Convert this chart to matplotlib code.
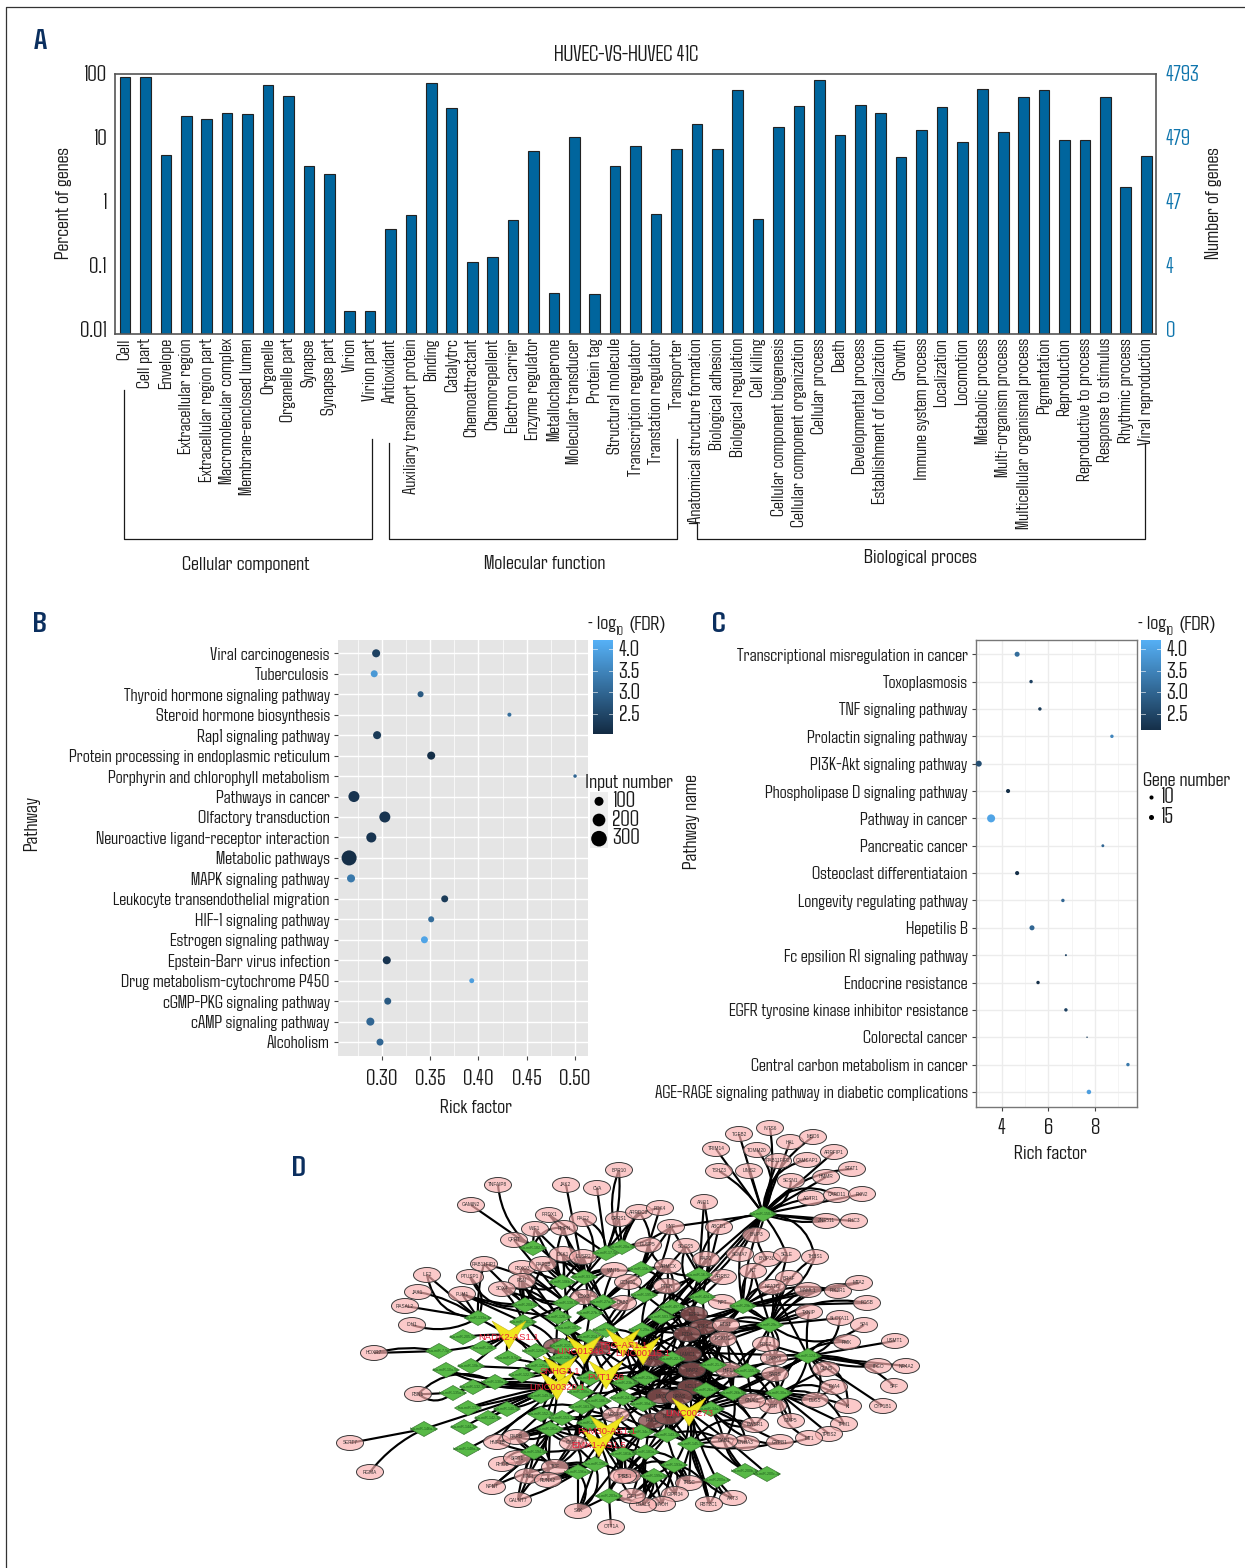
# GO bars, two KEGG bubble plots and the lncRNA-miRNA-mRNA network, on one page.

import numpy as np
import matplotlib
matplotlib.use("Agg")
import matplotlib.pyplot as plt
from matplotlib.colors import LinearSegmentedColormap
from matplotlib.patches import Ellipse, PathPatch, Polygon
from matplotlib.path import Path

FONTS = ['Agdasima', 'Fira Sans Extra Condensed', 'Lato', 'DejaVu Sans']
plt.rcParams['font.family'] = FONTS

W, H = 1245, 1568

# panel A
go_terms = ["Cell", "Cell part", "Envelope", "Extracellular region", "Extracellular region part",
            "Macromolecular complex", "Membrane-enclosed lumen", "Organelle", "Organelle part",
            "Synapse", "Synapse part", "Virion", "Virion part",
            "Antioxidant", "Auxiliary transport protein", "Binding", "Catalytrc", "Chemoattractant",
            "Chemorepellent", "Electron carrier", "Enzyme regulator", "Metallochaperone",
            "Molecular transducer", "Protein tag", "Structural molecule", "Transcription regulator",
            "Transtation regulator", "Transporter",
            "Anatomical structure formation", "Biological adhesion", "Biological regulation",
            "Cell killing", "Cellular component biogenesis", "Cellular component organization",
            "Cellular process", "Death", "Developmental process", "Establishment of localization",
            "Growth", "Immune system process", "Localization", "Locomotion", "Metabolic process",
            "Multi-organism process", "Multicellular organismal process", "Pigmentation",
            "Reproduction", "Reproductive to process", "Response to stimulus", "Rhythmic process",
            "Viral reproduction"]
go_percent = [88.8, 88.8, 5.4, 22.3, 20, 24.3, 23.5, 68, 44.8, 3.65, 2.77, 0.019, 0.019,
              0.383, 0.627, 73, 29.7, 0.115, 0.135, 0.528, 6.2, 0.037, 10.5, 0.0356, 3.65, 7.5,
              0.65, 6.8,
              16.4, 6.8, 56, 0.55, 14.7, 31.6, 80.6, 11.1, 33, 24.8, 5.05, 13.3, 30.8, 8.66, 59,
              12.3, 44, 55.6, 9.3, 9.3, 43.7, 1.71, 5.3]
pct_ticks = [100, 10, 1, 0.1, 0.01]
pct_labels = ["100", "10", "1", "0.1", "0.01"]
count_labels = ["4793", "479", "47", "4", "0"]

# panel B
b_names = ["Alcoholism", "cAMP signaling pathway", "cGMP-PKG signaling pathway",
           "Drug metabolism-cytochrome P450", "Epstein-Barr virus infection",
           "Estrogen signaling pathway", "HIF-1 signaling pathway",
           "Leukocyte transendothelial migration", "MAPK signaling pathway", "Metabolic pathways",
           "Neuroactive ligand-receptor interaction", "Olfactory transduction", "Pathways in cancer",
           "Porphyrin and chlorophyll metabolism", "Protein processing in endoplasmic reticulum",
           "Rap1 signaling pathway", "Steroid hormone biosynthesis", "Thyroid hormone signaling pathway",
           "Tuberculosis", "Viral carcinogenesis"]
b_rich = [0.298, 0.288, 0.306, 0.393, 0.305, 0.344, 0.351, 0.365, 0.268, 0.266,
          0.289, 0.303, 0.271, 0.500, 0.351, 0.295, 0.432, 0.340, 0.292, 0.294]
b_count = [60, 80, 60, 30, 80, 60, 45, 60, 80, 280, 125, 150, 150, 15, 80, 80, 20, 45, 60, 80]
b_fdr = [3.0, 3.0, 2.8, 3.9, 2.2, 4.0, 3.1, 2.3, 3.3, 2.1, 2.2, 2.2, 2.2, 3.0, 2.1, 2.3, 3.1, 2.8, 3.8, 2.4]
b_legend = [100, 200, 300]

# panel C
c_names = ["AGE-RAGE signaling pathway in diabetic complications", "Central carbon metabolism in cancer",
           "Colorectal cancer", "EGFR tyrosine kinase inhibitor resistance", "Endocrine resistance",
           "Fc epsilion RI signaling pathway", "Hepetilis B", "Longevity regulating pathway",
           "Osteoclast differentiataion", "Pancreatic cancer", "Pathway in cancer",
           "Phospholipase D signaling pathway", "PI3K-Akt signaling pathway",
           "Prolactin signaling pathway", "TNF signaling pathway", "Toxoplasmosis",
           "Transcriptional misregulation in cancer"]
c_rich = [7.74, 9.42, 7.66, 6.75, 5.55, 6.75, 5.29, 6.62, 4.65, 8.34, 3.53, 4.26, 3.0, 8.73, 5.63, 5.25, 4.65]
c_count = [12, 7, 1.3, 7, 7, 2.4, 15, 7, 10, 5, 38, 10, 21, 7, 7, 7, 15]
c_fdr = [3.9, 3.3, 2.4, 2.4, 2.1, 2.4, 3.0, 3.0, 2.1, 3.0, 4.0, 2.1, 2.6, 3.5, 2.3, 2.4, 3.1]
c_legend = [10, 15]

# panel D, positions on the page because a network has no scale
pink_nodes = [
    ("TNFAIP8", 498, 1185), ("GAMIN2", 471, 1205), ("JAK2", 566, 1185), ("CVA", 597, 1188), ("BPR10", 619, 1170),
    ("PRDX1", 549, 1215), ("RAG2", 583, 1219), ("OPRS1", 619, 1219), ("WIF1", 535, 1229), ("RHPN", 564, 1228),
    ("QPRT", 514, 1240), ("ILF2", 427, 1275), ("RAB11FIP1", 484, 1264), ("PTUSP1", 470, 1277), ("JAK1", 418, 1292),
    ("RASAL2", 405, 1306), ("IDH1", 412, 1325), ("PUM1", 462, 1294), ("FBXO3", 522, 1268), ("RAP1B", 543, 1264),
    ("RSN", 522, 1281), ("SOX4", 502, 1289), ("DKK1", 563, 1254), ("DUSP2", 583, 1257), ("DDX3", 584, 1297),
    ("WNT5", 614, 1270), ("DAB2", 623, 1303), ("CCND1", 628, 1282),
    ("TGFB2", 739, 1134), ("INTS6", 770, 1128), ("HAL", 790, 1142), ("MBD6", 813, 1137), ("TRIM14", 716, 1149),
    ("TOMM20", 757, 1150), ("RAB11FIP2", 778, 1161), ("CAMSAP1", 807, 1160), ("ARRFIP1", 834, 1152),
    ("TSHZ3", 719, 1171), ("LIMS2", 749, 1171), ("STAT1", 852, 1169), ("HMMR", 826, 1177), ("SESN1", 791, 1181),
    ("AGTR1", 811, 1198), ("CARD11", 837, 1195), ("PKN2", 862, 1194), ("ZNF511", 826, 1221), ("PHC3", 854, 1221),
    ("ANO1", 704, 1202), ("ABCD1", 719, 1227), ("ARRDC3", 639, 1212), ("PDK4", 660, 1208), ("MYF", 671, 1227),
    ("SOCS5", 686, 1246), ("BNIP3", 756, 1235), ("SEMA7", 740, 1254), ("BNIP3L", 767, 1259), ("SELE", 787, 1255),
    ("THBS1", 815, 1257), ("KIT", 753, 1271), ("BRAF", 789, 1278), ("NFATC", 772, 1287), ("MAML1", 808, 1290),
    ("PIK3R1", 838, 1291), ("MTA2", 859, 1283), ("FOSB", 867, 1303), ("TXNIP", 809, 1312), ("SLC7A11", 840, 1318),
    ("SP4", 864, 1325), ("NPT", 722, 1302), ("RAP2", 706, 1259), ("ARRB2", 723, 1277), ("ARMCX", 668, 1266),
    ("PTEN", 667, 1286), ("DUSP5", 648, 1245), ("E2F1", 694, 1314), ("E2F3", 703, 1327), ("ETS1", 726, 1325),
    ("FOXO1", 723, 1339), ("FZD4", 687, 1334),
    ("PMK", 847, 1342), ("USMT1", 895, 1341), ("ITGO", 878, 1366), ("NR4A2", 906, 1366), ("SFF", 894, 1386),
    ("CYP1B1", 883, 1406), ("EYA4", 834, 1387), ("GLNS", 826, 1369), ("KI", 848, 1406), ("TPM1", 844, 1424),
    ("TPDS2", 829, 1434), ("MT1", 809, 1438), ("GYPB1", 780, 1442), ("ENHA3", 746, 1443), ("GAB1", 724, 1441),
    ("EWSR1", 755, 1425), ("GMP5", 791, 1421), ("DLG5", 815, 1400), ("VGR", 773, 1406), ("GNAI1", 752, 1401),
    ("PDE7", 766, 1344), ("MAPK9", 774, 1358), ("SARS", 775, 1374), ("HIF1A", 729, 1370),
    ("AXT3", 733, 1498), ("RBT2C1", 709, 1504), ("TRSC", 689, 1483), ("GIPR34", 675, 1494), ("MAOH", 662, 1504),
    ("LGALS", 643, 1505), ("IGF1", 632, 1496), ("IRS1", 627, 1476),
    ("KRAS", 653, 1359), ("LAMC1", 688, 1354), ("MAP2", 692, 1370), ("MCL1", 691, 1387), ("MYC", 661, 1396),
    ("NRAS", 679, 1397), ("PAK1", 652, 1421), ("PIM1", 668, 1417),
    ("HOXR7", 374, 1353), ("FBN1", 418, 1394), ("SEPT7", 350, 1443), ("RGMA", 370, 1472), ("HNF1B", 497, 1442),
    ("RARB", 516, 1437), ("CYP1A", 573, 1443), ("RHOB", 502, 1464), ("SIRT1", 517, 1458), ("TCF", 555, 1467),
    ("MAFI", 528, 1476), ("RUNX2", 548, 1480), ("NPNT", 492, 1487), ("GALNT7", 518, 1500), ("SYK", 578, 1511),
    ("OTT1A", 611, 1527), ("TP53", 623, 1476), ("VEGFA", 616, 1415), ("XIAP", 557, 1346), ("YAP1", 597, 1348),
]
dense_nodes = ["KRAS", "LAMC1", "MAP2", "MCL1", "MYC", "NRAS", "E2F1", "E2F3", "FZD4", "YAP1", "XIAP", "PAK1", "PIM1"]

green_nodes = [
    ("150-5p", 763, 1214, "TGFB2 INTS6 HAL MBD6 TRIM14 TOMM20 RAB11FIP2 CAMSAP1 ARRFIP1 TSHZ3 LIMS2 STAT1 HMMR SESN1 AGTR1 CARD11 PKN2 ZNF511 PHC3 BNIP3 SEMA7 BNIP3L SELE THBS1 MYF ABCD1 ZNF511"),
    ("182-5p", 533, 1248, "TNFAIP8 GAMIN2 QPRT WIF1 RHPN"),
    ("17-5p", 606, 1253, "CVA BPR10 OPRS1 DUSP2 PRDX1 RAG2"),
    ("20a-5p", 622, 1247, "ARRDC3 PDK4 OPRS1 MYF DUSP5 BPR10"),
    ("93-5p", 584, 1277, "JAK2 RAG2 RHPN DKK1 DUSP2 PRDX1 WIF1 WNT5 ARRDC3 RAP1B"),
    ("106b-5p", 562, 1282, "RAP1B RSN FBXO3 DKK1 WIF1 RHPN DUSP2 QPRT"),
    ("204-5p", 525, 1305, "PUM1 PTUSP1 RAB11FIP1 SOX4 RSN FBXO3 RAP1B"),
    ("138-5p", 566, 1303, "DDX3 SOX4 RSN QPRT RAB11FIP1 DKK1 WNT5 FBXO3"),
    ("27a-3p", 603, 1302, "DDX3 WNT5 DAB2 CCND1 DKK1 DUSP2 ARMCX"),
    ("27b-3p", 590, 1313, "DAB2 DDX3 CCND1 WNT5 DUSP2 RAP1B"),
    ("128-3p", 558, 1317, "DDX3 RSN FBXO3 SOX4 PUM1 WNT5"),
    ("133a-3p", 478, 1318, "ILF2 JAK1 RASAL2 IDH1 PUM1 PTUSP1 RAB11FIP1 ILF2"),
    ("101-3p", 523, 1322, "PUM1 SOX4 RSN XIAP DDX3"),
    ("107", 568, 1328, "DDX3 DAB2 XIAP YAP1 KRAS CCND1"),
    ("15a-5p", 606, 1330, "DAB2 YAP1 CCND1 ARMCX KRAS PTEN"),
    ("15b-5p", 641, 1269, "DUSP5 ARMCX PTEN PDK4 ARRDC3 WNT5 CCND1 MYF"),
    ("16-5p", 699, 1275, "SOCS5 RAP2 ABCD1 ANO1 ARRB2 PTEN DUSP5 MYF E2F1"),
    ("195-5p", 644, 1295, "PTEN ARMCX DAB2 CCND1 FZD4 E2F1 SOCS5 MYF"),
    ("424-5p", 702, 1297, "ARRB2 RAP2 NPT E2F1 E2F3 SOCS5 ABCD1 ANO1"),
    ("497-5p", 672, 1307, "E2F1 E2F3 FZD4 PTEN ARMCX LAMC1 RAP2"),
    ("503-5p", 661, 1317, "FZD4 E2F1 KRAS PTEN ARMCX LAMC1 E2F3"),
    ("29a-3p", 642, 1330, "FZD4 KRAS LAMC1 ARMCX MAP2 MYC E2F1"),
    ("29b-3p", 743, 1306, "NFATC BRAF KIT MAML1 PIK3R1 MTA2 TXNIP SEMA7 BNIP3L SELE ETS1 NPT E2F1 FOSB THBS1 BNIP3 MAPK9 E2F3 FOXO1 LAMC1"),
    ("29c-3p", 770, 1325, "FOSB SLC7A11 SP4 TXNIP PIK3R1 MAML1 NFATC BRAF THBS1 PDE7 ETS1 E2F3 MAPK9 SELE FOXO1 LAMC1 MTA2 KIT MAP2 FZD4"),
    ("124-3p", 808, 1356, "PMK USMT1 ITGO NR4A2 SFF CYP1B1 EYA4 GLNS KI PDE7 MAPK9 SARS VGR ITGO SLC7A11 TXNIP DLG5 NFATC GNAI1 HIF1A MAP2"),
    ("155-5p", 747, 1371, "MAPK9 SARS HIF1A PDE7 FOXO1 ETS1 GNAI1 VGR MAP2 MCL1 LAMC1 E2F3 FZD4 KRAS MYC"),
    ("21-5p", 713, 1365, "HIF1A LAMC1 MAP2 FOXO1 E2F3 FZD4 MCL1 KRAS NRAS ETS1 PIM1 MYC PAK1 E2F1"),
    ("22-3p", 672, 1359, "KRAS LAMC1 MAP2 FZD4 MYC MCL1 NRAS FOXO1 HIF1A ETS1 E2F1 PIM1 PAK1"),
    ("23a-3p", 645, 1378, "KRAS MAP2 MCL1 MYC YAP1 NRAS LAMC1 PIM1 HIF1A FZD4 E2F1 ETS1"),
    ("23b-3p", 625, 1383, "KRAS MYC YAP1 MCL1 MAP2 LAMC1 NRAS"),
    ("24-3p", 623, 1398, "MYC NRAS PAK1 VEGFA PIM1 MCL1 KRAS MAP2"),
    ("26a-5p", 706, 1390, "MCL1 NRAS EWSR1 GNAI1 MAP2 HIF1A PIM1 KRAS LAMC1 FOXO1 MYC E2F3 FZD4"),
    ("26b-5p", 733, 1393, "GNAI1 VGR EWSR1 HIF1A SARS GAB1 MAP2 MCL1 NRAS PDE7 KRAS E2F1 ETS1 FZD4"),
    ("30a-5p", 779, 1393, "GLNS EYA4 KI TPM1 DLG5 GMP5 GNAI1 VGR TPDS2 MT1 SARS PMK TPM1 PDE7 MAPK9 GMP5 MCL1 HIF1A EWSR1 KI"),
    ("30d-5p", 643, 1404, "MYC PAK1 PIM1 NRAS VEGFA MCL1 MAP2 KRAS LAMC1 E2F1 FOXO1 ETS1"),
    ("34a-5p", 711, 1409, "GNAI1 EWSR1 GAB1 ENHA3 GYPB1 NRAS MCL1 VGR PIM1 MT1 KRAS MAP2 LAMC1"),
    ("34c-5p", 641, 1432, "PAK1 PIM1 VEGFA IRS1 TP53 NRAS"),
    ("143-3p", 667, 1435, "PAK1 PIM1 TRSC VEGFA GAB1 NRAS MYC IRS1 MCL1 MAP2 LAMC1"),
    ("145-5p", 691, 1444, "GAB1 ENHA3 TRSC AXT3 RBT2C1 EWSR1 GIPR34 GYPB1 RBT2C1 PIM1 MCL1 NRAS MYC"),
    ("181a-5p", 646, 1452, "IRS1 IGF1 TP53 TRSC GIPR34 LGALS MAOH PAK1 TRSC PIM1 IRS1"),
    ("181b-5p", 623, 1454, "IRS1 TP53 VEGFA IGF1 SYK LGALS PAK1 TP53"),
    ("193a-3p", 674, 1465, "TRSC GIPR34 MAOH IRS1 LGALS RBT2C1 MAOH IGF1"),
    ("199a-5p", 654, 1476, "IGF1 LGALS MAOH IRS1 GIPR34 IGF1 TP53 LGALS"),
    ("200a-3p", 717, 1480, "AXT3 RBT2C1 TRSC AXT3"),
    ("200b-3p", 745, 1471, "GAB1"),
    ("200c-3p", 767, 1474, "GAB1"),
    ("205-5p", 463, 1337, ""),
    ("206", 483, 1348, ""),
    ("7-5p", 439, 1351, "HOXR7 HOXR7"),
    ("9-5p", 508, 1358, ""),
    ("10a-5p", 446, 1370, ""),
    ("10b-5p", 471, 1366, ""),
    ("122-5p", 522, 1375, ""),
    ("125a-5p", 539, 1366, ""),
    ("125b-5p", 536, 1351, "XIAP"),
    ("126-3p", 563, 1358, "XIAP YAP1"),
    ("130a-3p", 495, 1382, "FBN1"),
    ("132-3p", 473, 1387, "FBN1"),
    ("135a-5p", 453, 1393, "FBN1"),
    ("137", 468, 1408, ""),
    ("140-5p", 507, 1409, ""),
    ("142-3p", 488, 1418, ""),
    ("144-3p", 464, 1427, ""),
    ("146a-5p", 424, 1429, "SEPT7 RGMA"),
    ("148a-3p", 467, 1449, ""),
    ("149-5p", 541, 1396, "XIAP YAP1"),
    ("152-3p", 541, 1414, "RARB CYP1A"),
    ("153-3p", 562, 1418, "CYP1A RARB VEGFA"),
    ("181c-5p", 550, 1429, "RARB HNF1B SIRT1 CYP1A TCF MAFI RHOB RUNX2"),
    ("183-5p", 582, 1407, "VEGFA CYP1A TCF RARB HNF1B"),
    ("186-5p", 598, 1401, "VEGFA MYC TP53 CYP1A TCF"),
    ("190a-5p", 581, 1392, "YAP1 XIAP KRAS VEGFA"),
    ("192-5p", 590, 1378, "YAP1 KRAS XIAP MYC"),
    ("194-5p", 534, 1452, "RHOB SIRT1 MAFI HNF1B RUNX2 NPNT GALNT7 TCF RARB NPNT RHOB GALNT7 SIRT1 RARB"),
    ("196a-5p", 578, 1472, "TCF RUNX2 MAFI SYK CYP1A GALNT7 SYK MAFI SIRT1"),
    ("198", 595, 1464, "SYK TP53 CYP1A GALNT7 TCF SYK RUNX2 NPNT"),
    ("203a-3p", 609, 1496, "OTT1A TP53 SYK IGF1 LGALS IRS1"),
    ("210-3p", 590, 1423, "VEGFA CYP1A TP53 TCF HNF1B"),
    ("212-3p", 563, 1346, "XIAP KRAS YAP1"),
    ("214-3p", 590, 1337, "XIAP YAP1 KRAS"),
]

yellow_nodes = [
    ("NADK2-AS1.1", 509, 1335, "7-5p 206 9-5p 125b-5p 125a-5p 133a-3p 205-5p 10b-5p 101-3p"),
    ("TRG-AS1.1", 623, 1343, "15a-5p 29a-3p 23a-3p 214-3p 22-3p 503-5p 192-5p 212-3p 30d-5p 150-5p 150-5p 29c-3p 29b-3p 155-5p 16-5p 424-5p 93-5p 106b-5p"),
    ("LINC01348.1", 584, 1350, "126-3p 214-3p 192-5p 125a-5p 107 190a-5p 149-5p 122-5p 128-3p 138-5p 27b-3p 204-5p"),
    ("SNHG3.1", 560, 1370, "122-5p 125a-5p 149-5p 190a-5p 126-3p 10a-5p 10b-5p 9-5p 192-5p 128-3p 101-3p"),
    ("PVT1.36", 606, 1375, "192-5p 23b-3p 24-3p 186-5p 190a-5p 23a-3p 214-3p 183-5p 30d-5p 26a-5p 26b-5p 30a-5p 150-5p 34c-5p"),
    ("LINC00320.1", 557, 1386, "130a-3p 132-3p 135a-5p 137 140-5p 142-3p 144-3p 146a-5p 148a-3p 149-5p 152-3p 130a-3p 10a-5p 140-5p 137 142-3p 181c-5p 194-5p"),
    ("FAM30-AS1.1", 607, 1430, "153-3p 181b-5p 34c-5p 210-3p 186-5p 30d-5p 198 181c-5p 143-3p 181a-5p 145-5p"),
    ("EMX1-AS1.5", 599, 1443, "198 181b-5p 196a-5p 194-5p 181c-5p 210-3p 153-3p 203a-3p 34c-5p 181a-5p 199a-5p"),
    ("LINC00115.1", 643, 1351, "22-3p 29a-3p 23a-3p 23b-3p 503-5p 15a-5p 21-5p 29b-3p 16-5p 124-3p 155-5p 150-5p 497-5p 424-5p"),
    ("LINC00273", 689, 1412, "34a-5p 26a-5p 145-5p 143-3p 200b-3p 200c-3p 193a-3p 26b-5p 200a-3p 30d-5p 30a-5p 124-3p 29c-3p 181a-5p"),
]

# ggplot style continuous blue
fdr_cmap = LinearSegmentedColormap.from_list("fdr", ["#132b43", "#56b1f7"])
FDR_MIN, FDR_MAX = 2.04, 4.21
TEXT = "#1a1a1a"
SIZE_NUM = 15.5
SIZE_TITLE = 15
SIZE_CAT = 13.3

fig = plt.figure(figsize=(W / 100, H / 100), dpi=100)


def px_axes(left, top, right, bottom):
    return fig.add_axes([left / W, 1 - bottom / H, (right - left) / W, (bottom - top) / H])


def dot_size(diam_px):
    return (diam_px * 0.72) ** 2


def colorbar(left, top, right, bottom):
    ax = px_axes(left, top, right, bottom)
    grad = np.linspace(FDR_MAX, FDR_MIN, 200).reshape(-1, 1)
    ax.imshow(grad, aspect="auto", cmap=fdr_cmap, vmin=FDR_MIN, vmax=FDR_MAX,
              extent=[0, 1, FDR_MIN, FDR_MAX])
    ax.set_xticks([])
    ax.yaxis.tick_right()
    ax.set_yticks([2.5, 3.0, 3.5, 4.0], ["2.5", "3.0", "3.5", "4.0"], fontsize=SIZE_NUM, color=TEXT)
    ax.tick_params(axis="y", length=0, pad=4)
    for v in [2.5, 3.0, 3.5, 4.0]:
        ax.plot([0, 0.2], [v, v], color="white", lw=0.6, alpha=0.7)
        ax.plot([0.8, 1], [v, v], color="white", lw=0.6, alpha=0.7)
    for s in ax.spines.values():
        s.set_visible(False)
    return ax


def fdr_title(x, y):
    top.text(x, y, "\u2212log", fontsize=SIZE_TITLE, ha="left", va="center", color=TEXT)
    top.text(x + 29, y + 8, "10", fontsize=9, ha="left", va="center", color=TEXT)
    top.text(x + 42, y, "(FDR)", fontsize=SIZE_TITLE, ha="left", va="center", color=TEXT)


page = fig.add_axes([0, 0, 1, 1], zorder=0)
page.set_xlim(0, W)
page.set_ylim(H, 0)
page.axis("off")

# same page coordinates, above the other axes
top = fig.add_axes([0, 0, 1, 1], zorder=5)
top.set_xlim(0, W)
top.set_ylim(H, 0)
top.axis("off")

# frame of the page
page.plot([6, 6, W], [H, 7, 7], color="#333333", lw=0.9)
for label, x, y in [("A", 40, 42), ("B", 40, 625), ("C", 719, 625), ("D", 299, 1169)]:
    page.text(x, y, label, fontsize=21, fontweight="bold", color="#0b2f5f", ha="center", va="center")

# ---- panel A ----
ax_a = px_axes(115, 74, 1156, 334)
pos = np.arange(len(go_terms))
ax_a.bar(pos, go_percent, width=0.52, bottom=1e-3, color="#00659d", edgecolor="#222222", linewidth=0.8)
ax_a.set_yscale("log")
ax_a.set_ylim(10 ** (-2 - 4 / 64), 100)
ax_a.set_xlim(-0.49, 50.48)
ax_a.set_yticks(pct_ticks, pct_labels, fontsize=SIZE_NUM, color=TEXT)
ax_a.minorticks_off()
ax_a.set_xticks(pos, go_terms, rotation=90, fontsize=SIZE_CAT, color=TEXT)
ax_a.tick_params(axis="y", length=0, pad=6)
ax_a.tick_params(axis="x", length=0, pad=3)
for s in ax_a.spines.values():
    s.set_color("#555555")
    s.set_linewidth(1.2)
page.text(626, 56, "HUVEC-VS-HUVEC 41C", fontsize=SIZE_TITLE + 0.5, color=TEXT, ha="center", va="center")
page.text(63, 203, "Percent of genes", fontsize=SIZE_TITLE, color=TEXT, rotation=90, ha="center", va="center")
page.text(1213, 203, "Number of genes", fontsize=SIZE_TITLE, color=TEXT, rotation=90, ha="center", va="center")

right = ax_a.twinx()
right.set_yscale("log")
right.set_ylim(ax_a.get_ylim())
right.set_yticks(pct_ticks, count_labels, fontsize=SIZE_NUM, color="#0f75ad")
right.minorticks_off()
right.tick_params(axis="y", length=0, pad=7)
for s in right.spines.values():
    s.set_visible(False)

# group brackets
page.plot([124, 124, 372, 372], [390, 539, 539, 439], color=TEXT, lw=0.9)
page.plot([389, 389, 677, 677], [443, 539, 539, 439], color=TEXT, lw=0.9)
page.plot([689, 697, 697, 1145, 1145], [523, 523, 539, 539, 443], color=TEXT, lw=0.9)
for label, x, y in [("Cellular component", 246, 564), ("Molecular function", 545, 564), ("Biological proces", 920, 557)]:
    page.text(x, y, label, fontsize=SIZE_TITLE, color=TEXT, ha="center", va="center")

# ---- panel B ----
ax_b = px_axes(338, 640, 588, 1056)
ax_b.set_facecolor("#e5e5e5")
ax_b.grid(True, which="major", color="white", lw=1.0)
ax_b.grid(True, which="minor", axis="x", color="white", lw=0.5)
ax_b.set_axisbelow(True)
b_y = np.arange(len(b_names))
ax_b.scatter(b_rich, b_y, s=dot_size(0.9 * np.sqrt(b_count)), c=b_fdr, cmap=fdr_cmap,
             vmin=FDR_MIN, vmax=FDR_MAX, linewidths=0, zorder=3, clip_on=False)
ax_b.set_xlim(0.2545, 0.5134)
ax_b.set_ylim(-0.68, 19.65)
ax_b.set_xticks([0.30, 0.35, 0.40, 0.45, 0.50], ["0.30", "0.35", "0.40", "0.45", "0.50"], fontsize=SIZE_NUM, color=TEXT)
ax_b.set_xticks([0.275, 0.325, 0.375, 0.425, 0.475], minor=True)
ax_b.set_yticks(b_y, b_names, fontsize=SIZE_CAT, color=TEXT)
ax_b.tick_params(axis="both", which="major", length=3, width=0.8, color="#444444", pad=3)
ax_b.tick_params(axis="x", which="major", pad=8)
ax_b.tick_params(axis="x", which="minor", length=0)
for s in ax_b.spines.values():
    s.set_visible(False)
page.text(32, 823, "Pathway", fontsize=SIZE_TITLE, rotation=90, ha="center", va="center", color=TEXT)
page.text(476, 1108, "Rick factor", fontsize=SIZE_TITLE, ha="center", va="center", color=TEXT)

colorbar(593, 640, 613, 734)
fdr_title(587, 624)
top.text(585, 782, "Input number", fontsize=SIZE_TITLE, ha="left", va="center", color=TEXT)
key_ax = px_axes(590, 792, 608, 848)
key_ax.set_xlim(0, 1)
key_ax.set_ylim(len(b_legend) - 0.5, -0.5)
key_ax.axis("off")
key_ax.add_patch(plt.Rectangle((0, -0.5), 1, 3, color="#eeeeee", zorder=0))
key_ax.scatter([0.5] * 3, range(3), s=dot_size(0.9 * np.sqrt(b_legend)), color="black", linewidths=0, zorder=2)
for i, v in enumerate(b_legend):
    page.text(612, 802 + i * 18.5, str(v), fontsize=SIZE_NUM, ha="left", va="center", color=TEXT)

# ---- panel C ----
ax_c = px_axes(976, 640, 1137, 1107)
ax_c.grid(True, which="major", color="#ececec", lw=1.0)
ax_c.grid(True, which="minor", axis="x", color="#f2f2f2", lw=0.6)
ax_c.set_axisbelow(True)
c_y = np.arange(len(c_names))
ax_c.scatter(c_rich, c_y, s=dot_size(1.3 * np.sqrt(c_count)), c=c_fdr, cmap=fdr_cmap,
             vmin=FDR_MIN, vmax=FDR_MAX, linewidths=0, zorder=3, clip_on=False)
ax_c.set_xlim(2.88, 9.81)
ax_c.set_ylim(-0.55, 16.52)
ax_c.set_xticks([4, 6, 8], ["4", "6", "8"], fontsize=SIZE_NUM, color=TEXT)
ax_c.set_xticks([3, 5, 7, 9], minor=True)
ax_c.set_yticks(c_y, c_names, fontsize=SIZE_CAT, color=TEXT)
ax_c.tick_params(axis="both", which="major", length=3, width=0.8, color="#444444", pad=3)
ax_c.tick_params(axis="x", which="major", pad=6)
ax_c.tick_params(axis="x", which="minor", length=0)
for s in ax_c.spines.values():
    s.set_color("#777777")
    s.set_linewidth(1.0)
page.text(692, 822, "Pathway name", fontsize=SIZE_TITLE, rotation=90, ha="center", va="center", color=TEXT)
page.text(1051, 1154, "Rich factor", fontsize=SIZE_TITLE, ha="center", va="center", color=TEXT)

colorbar(1141, 640, 1161, 730).set_ylim(2.12, 4.21)
fdr_title(1137, 624)
page.text(1143, 781, "Gene number", fontsize=SIZE_TITLE, ha="left", va="center", color=TEXT)
for i, v in enumerate(c_legend):
    page.scatter([1151], [797 + i * 20], s=dot_size(1.3 * np.sqrt(v)), color="black", linewidths=0)
    page.text(1160, 798 + i * 20, str(v), fontsize=SIZE_NUM, ha="left", va="center", color=TEXT)

# ---- panel D ----
where = {}
for name, x, y in pink_nodes:
    where[name] = (x, y)
for name, x, y, _ in green_nodes:
    where[name] = (x, y)


def edge(a, b, bend):
    # one quadratic curve between two nodes
    (x0, y0), (x1, y1) = a, b
    mx, my = (x0 + x1) / 2, (y0 + y1) / 2
    cx, cy = mx - (y1 - y0) * bend, my + (x1 - x0) * bend
    path = Path([(x0, y0), (cx, cy), (x1, y1)], [Path.MOVETO, Path.CURVE3, Path.CURVE3])
    page.add_patch(PathPatch(path, fill=False, edgecolor="black", lw=1.55, zorder=1))


bends = [0, 0.12, 0, -0.22, 0, 0.35, -0.08, -0.4]
n = 0
for name, x, y, targets in green_nodes:
    for t in targets.split():
        edge((x, y), where[t], bends[n % len(bends)])
        n += 1
for name, x, y, targets in yellow_nodes:
    for t in targets.split():
        edge((x, y), where[t], bends[n % len(bends)] * 0.4)
        n += 1

for name, x, y in pink_nodes:
    fill = (0.55, 0.33, 0.33, 0.82) if name in dense_nodes else (0.98, 0.69, 0.69, 0.68)
    page.add_patch(Ellipse((x, y), 27, 15, facecolor=fill, edgecolor="#3a3a3a", lw=0.7, zorder=2))
    page.text(x, y, name, fontsize=3.4, ha="center", va="center", color="#333333", zorder=2.1,
              family=["Liberation Sans", "DejaVu Sans"])
for name, x, y, _ in green_nodes:
    page.add_patch(Polygon([(x - 13.5, y), (x, y - 7.5), (x + 13.5, y), (x, y + 7.5)], closed=True,
                           facecolor="#58b947", edgecolor="#3c7a34", lw=0.5, zorder=3))
    page.text(x, y, "hsa-miR-" + name, fontsize=2.6, ha="center", va="center", color="#1c5a1c", zorder=3.1,
              family=["Liberation Sans", "DejaVu Sans"])
for name, x, y, _ in yellow_nodes:
    page.add_patch(Polygon([(x - 17, y - 14), (x, y - 4), (x + 17, y - 14), (x, y + 14)], closed=True,
                           facecolor="#f0e61e", edgecolor="#c8b818", lw=0.4, zorder=4))
    page.text(x, y + 2, name, fontsize=6.8, ha="center", va="center", color="#e8203a", zorder=5,
              family=["Liberation Sans", "DejaVu Sans"])

fig.savefig("out.png", dpi=100)
